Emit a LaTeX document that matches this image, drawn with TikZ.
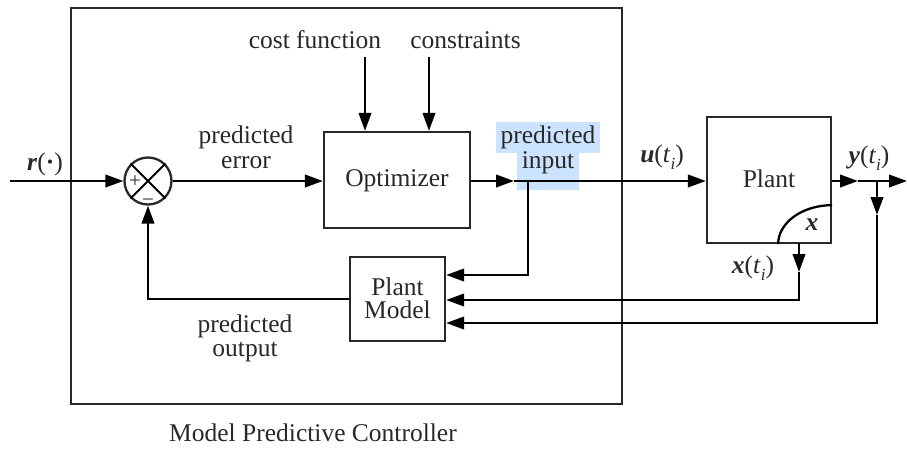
\documentclass[tikz,border=0pt]{standalone}
\usepackage{fontspec}
\setmainfont{Liberation Serif}
\usetikzlibrary{arrows.meta}
\definecolor{hl}{RGB}{204,227,255}
\definecolor{ink}{RGB}{40,40,40}
\newcommand{\bi}[1]{\textbf{\textit{#1}}}
\newcommand{\tsub}[1]{\raisebox{-0.3em}{\fontsize{17}{17}\selectfont\textit{#1}}}
\begin{document}
\begin{tikzpicture}[x=1pt,y=-1pt,
  txt/.style={font=\fontsize{25.5}{24}\selectfont, text=ink, inner sep=0pt, anchor=base},
  blk/.style={draw=ink, line width=2.3pt, inner sep=0pt},
  conn/.style={line width=2.3pt, draw=black},
  arr/.style={conn, -{Triangle[length=18pt,width=12.5pt]}},
  ]
\useasboundingbox (0,0) rectangle (907,448);
% highlight of "predicted input"
\fill[hl] (496,122) rectangle (600,153);
\fill[hl] (517,146) rectangle (579,190);

% outer controller box
\node[blk, minimum width=551pt, minimum height=396pt] (mpc) at (346.5,206) {};
\node[txt] (cap) at (313,441) {Model Predictive Controller};

% blocks
\node[blk, circle, minimum size=47pt] (sum) at (148,181) {};
\draw[conn, line width=1.8pt] (sum.north west) -- (sum.south east);
\draw[conn, line width=1.8pt] (sum.north east) -- (sum.south west);
\node[txt, font=\fontsize{21}{21}\selectfont] (plus) at (135,187) {+};
\node[txt, font=\fontsize{21}{21}\selectfont] (minus) at (148,206) {−};

\node[blk, minimum width=146pt, minimum height=96pt] (opt) at (397,180) {};
\node[txt] (optt) at (397,186) {Optimizer};

\node[blk, minimum width=124pt, minimum height=126pt] (plant) at (769,180) {};
\node[txt] (plantt) at (769,187) {Plant};
\draw[conn] ([xshift=-54pt]plant.south east) arc[start angle=180, end angle=90, x radius=54pt, y radius=39pt];
\node[txt] (xs) at (812,230) {\bi{x}};

\node[blk, minimum width=95pt, minimum height=84pt] (pm) at (397.5,299) {};
\node[txt] (pm1) at (397.5,295) {Plant};
\node[txt] (pm2) at (397.5,318) {Model};

% labels
\node[txt] (rl) at (45,170) {\bi{r}(\textbf{·})};
\node[txt] (cft) at (315,48) {cost function};
\node[txt] (cst) at (465.5,48) {constraints};
\node[txt] (pe1) at (246,143) {predicted};
\node[txt] (pe2) at (246,168) {error};
\node[txt] (pi1) at (548,143) {predicted};
\node[txt] (pi2) at (548,168) {input};
\node[txt] (po1) at (245,332) {predicted};
\node[txt] (po2) at (245,356) {output};
\node[txt] (ul) at (662,162) {\bi{u}(\textit{t}\tsub{i})};
\node[txt] (yl) at (869,163) {\bi{y}(\textit{t}\tsub{i})};
\node[txt] (xl) at (753,273) {\bi{x}(\textit{t}\tsub{i})};

% coordinates
\coordinate (rin) at (10,181);
\coordinate (cf) at (365,57);
\coordinate (cs) at (429,57);
\coordinate (m1) at (514,181);
\coordinate (br) at (528,181);
\coordinate (br2) at (528,275);
\coordinate (m2) at (858,181);
\coordinate (yend) at (907,181);
\coordinate (yb) at (877,181);
\coordinate (yb1) at (877,215);
\coordinate (yb2) at (877,323);
\coordinate (xo) at (799,243);
\coordinate (xo1) at (799,272);
\coordinate (xo2) at (799,300);

% connectors
\draw[arr] (rin) -- (sum.west);
\draw[arr] (sum.east) -- (sum.east -| opt.west);
\draw[arr] (cf) -- (cf |- opt.north);
\draw[arr] (cs) -- (cs |- opt.north);
\draw[arr] (opt.east |- m1) -- (m1);
\draw[arr] (m1) -- (m1 -| plant.west);
\draw[arr] (br) -- (br2) -- (br2 -| pm.east);
\draw[arr] (plant.east |- m2) -- (m2);
\draw[arr] (m2) -- (yend);
\draw[arr] (yb) -- (yb1);
\draw[arr] (yb1) -- (yb2) -- (yb2 -| pm.east);
\draw[arr] (xo) -- (xo1);
\draw[arr] (xo1) -- (xo2) -- (xo2 -| pm.east);
\draw[arr] (pm.west) -- (pm.west -| sum) -- (sum.south);
\end{tikzpicture}
\end{document}
